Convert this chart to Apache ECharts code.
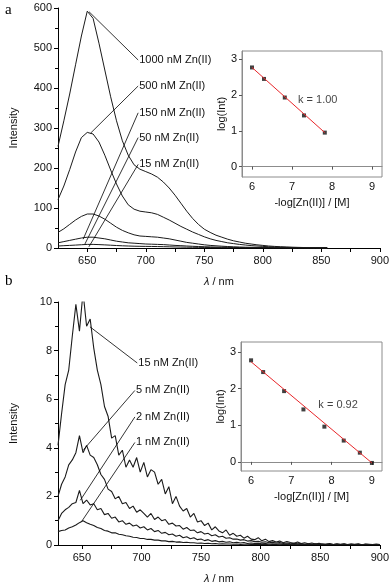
<!DOCTYPE html>
<html>
<head>
<meta charset="utf-8">
<script src="https://cdn.jsdelivr.net/npm/echarts@6/dist/echarts.min.js"></script>
<style>
  html, body { margin: 0; padding: 0; background: #fff; }
  #chart { width: 392px; height: 585px; }
</style>
</head>
<body>
<div id="chart"></div>
<script>
// panel a: wavelength grid, 625..855 nm every 5 nm
const wlA = Array.from({ length: 47 }, (_, i) => 625 + i * 5)
const zn1000 = [254, 318, 385, 458, 530, 592, 574, 512, 445, 378, 318, 268, 232, 208, 197, 191, 185, 177, 165, 150,
  132, 112, 92, 74, 59, 47, 39, 32, 27, 22, 18, 15, 12, 10, 8, 6.5, 5, 4, 3.2, 2.6,
  2, 1.6, 1.2, 1, 0.8, 0.6, 0.4]
const zn500 = [121, 155, 196, 240, 276, 289, 285, 265, 232, 195, 160, 130, 108, 97, 92, 90, 88, 84, 77, 70,
  62, 54, 47, 40, 34, 28, 23, 19, 16, 13, 11, 9, 7.5, 6, 5, 4, 3.2, 2.6, 2, 1.6,
  1.3, 1, 0.8, 0.6, 0.5, 0.4, 0.3]
const zn150 = [39, 48, 59, 70, 79, 85, 85, 80, 72, 62, 52, 44, 38, 33, 30, 29, 28, 27, 25, 23,
  20, 17, 14, 12, 10, 8, 6.5, 5.5, 4.5, 3.7, 3, 2.5, 2, 1.7, 1.4, 1.2, 1, 0.8, 0.6, 0.5,
  0.4, 0.3, 0.3, 0.2, 0.2, 0.2, 0.1]
const zn50 = [13, 16, 19, 22, 25, 27, 27, 25, 23, 20, 17, 15, 13, 12, 11, 10, 9.5, 9, 8.5, 7.5,
  6.5, 5.8, 5, 4.3, 3.7, 3.2, 2.7, 2.3, 2, 1.7, 1.4, 1.2, 1, 0.9, 0.8, 0.7, 0.6, 0.5, 0.4, 0.3,
  0.3, 0.2, 0.2, 0.2, 0.1, 0.1, 0.1]
const zn15 = [5, 5.8, 6.5, 7.3, 8.2, 9, 9, 8.5, 7.8, 7, 6.2, 5.5, 5, 4.5, 4.2, 4, 3.8, 3.6, 3.3, 3,
  2.6, 2.3, 2, 1.8, 1.6, 1.4, 1.2, 1, 0.9, 0.8, 0.7, 0.6, 0.5, 0.4, 0.4, 0.3, 0.3, 0.2, 0.2, 0.2,
  0.1, 0.1, 0.1, 0.1, 0.1, 0.1, 0.1]

// panel b: wavelength grid, 630..900 nm every 3 nm (noisy low-level spectra)
const wlB = Array.from({ length: 91 }, (_, i) => 630 + i * 3)
const zn15b = [
  4.1, 5.4, 6.6, 7.2, 8.6, 9.9, 8.8, 10.4, 9.0, 9.3,
  8.1, 7.2, 6.6, 5.7, 5.3, 4.4, 4.5, 3.7, 3.9, 3.2,
  3.5, 3.2, 3.6, 3.0, 3.4, 2.8, 3.1, 3.0, 2.5, 2.7,
  2.1, 2.4, 1.7, 2.0, 1.6, 1.4, 1.5, 1.15, 1.3, 0.95,
  1.0, 0.8, 0.9, 0.62, 0.75, 0.58, 0.5, 0.62, 0.4, 0.48,
  0.36, 0.4, 0.28, 0.36, 0.24, 0.22, 0.3, 0.17, 0.24, 0.14,
  0.18, 0.12, 0.16, 0.09, 0.14, 0.1, 0.07, 0.12, 0.06, 0.09,
  0.05, 0.08, 0.04, 0.07, 0.03, 0.04, 0.06, 0.02, 0.05, 0.03,
  0.05, 0.02, 0.04, 0.03, 0.05, 0.01, 0.04, 0.03, 0.02, 0.04,
  0.02]
const zn5b = [
  2.0, 2.5, 2.8, 3.3, 3.5, 3.8, 4.5, 3.8, 4.1, 3.7,
  3.6, 3.3, 2.9, 2.7, 2.3, 2.2, 1.9, 2.0, 1.7, 1.75,
  1.5, 1.6, 1.35, 1.45, 1.3, 1.15, 1.3, 1.05, 1.15, 1.0,
  1.05, 0.85, 0.9, 0.78, 0.8, 0.65, 0.72, 0.6, 0.62, 0.5,
  0.55, 0.45, 0.48, 0.38, 0.42, 0.33, 0.36, 0.28, 0.3, 0.24,
  0.25, 0.2, 0.22, 0.16, 0.18, 0.14, 0.15, 0.11, 0.13, 0.09,
  0.11, 0.08, 0.1, 0.06, 0.08, 0.05, 0.07, 0.05, 0.06, 0.03,
  0.05, 0.03, 0.05, 0.02, 0.04, 0.03, 0.04, 0.02, 0.03, 0.02,
  0.04, 0.01, 0.03, 0.02, 0.03, 0.01, 0.03, 0.02, 0.02, 0.02,
  0.02]
const zn2b = [
  1.0, 1.3, 1.45, 1.55, 1.7, 1.75, 2.25, 1.7, 1.85, 1.65,
  1.7, 1.45, 1.5, 1.25, 1.3, 1.1, 1.15, 0.95, 1.0, 0.85,
  0.9, 0.78, 0.82, 0.7, 0.75, 0.62, 0.68, 0.55, 0.6, 0.48,
  0.52, 0.42, 0.45, 0.36, 0.4, 0.3, 0.34, 0.26, 0.3, 0.22,
  0.25, 0.18, 0.22, 0.15, 0.18, 0.13, 0.15, 0.11, 0.13, 0.09,
  0.11, 0.08, 0.1, 0.06, 0.08, 0.06, 0.07, 0.05, 0.06, 0.04,
  0.05, 0.04, 0.05, 0.03, 0.04, 0.02, 0.04, 0.03, 0.03, 0.02,
  0.03, 0.01, 0.03, 0.02, 0.03, 0.01, 0.02, 0.02, 0.03, 0.01,
  0.02, 0.02, 0.03, 0.01, 0.02, 0.01, 0.02, 0.02, 0.01, 0.02,
  0.01]
const zn1b = [
  0.55, 0.6, 0.62, 0.7, 0.75, 0.82, 0.92, 1.0, 0.92, 0.85,
  0.8, 0.72, 0.68, 0.6, 0.57, 0.5, 0.5, 0.44, 0.42, 0.38,
  0.36, 0.32, 0.31, 0.27, 0.27, 0.23, 0.23, 0.2, 0.2, 0.17,
  0.17, 0.14, 0.15, 0.12, 0.13, 0.1, 0.11, 0.09, 0.09, 0.07,
  0.08, 0.06, 0.07, 0.05, 0.06, 0.04, 0.05, 0.04, 0.04, 0.03,
  0.04, 0.02, 0.03, 0.03, 0.02, 0.03, 0.02, 0.02, 0.03, 0.01,
  0.02, 0.02, 0.01, 0.02, 0.02, 0.01, 0.02, 0.01, 0.02, 0.01,
  0.01, 0.02, 0.01, 0.01, 0.02, 0.01, 0.01, 0.02, 0.01, 0.01,
  0.01, 0.01, 0.02, 0.01, 0.01, 0.01, 0.02, 0.01, 0.01, 0.01,
  0.01]

// leader lines: [start, end] in data units, label at the end
const leadersA = [
  { name: '1000 nM Zn(II)', pts: [[651.4, 591], [693.5, 470]] },
  { name: '500 nM Zn(II)', pts: [[652.8, 287], [693.5, 405]] },
  { name: '150 nM Zn(II)', pts: [[646.5, 22], [693.5, 338]] },
  { name: '50 nM Zn(II)', pts: [[648, 10], [693.5, 276]] },
  { name: '15 nM Zn(II)', pts: [[651.4, 3], [693.5, 209]] }
]
const leadersB = [
  { name: '15 nM Zn(II)', pts: [[656.8, 8.98], [696.5, 7.49]] },
  { name: '5 nM Zn(II)', pts: [[651.4, 3.92], [694.5, 6.36]] },
  { name: '2 nM Zn(II)', pts: [[648.7, 1.84], [694.5, 5.27]] },
  { name: '1 nM Zn(II)', pts: [[650, 0.98], [694.5, 4.22]] }
]

// insets: -log[Zn] vs log(Int)
const logZnA = [6, 6.3, 6.82, 7.3, 7.82]
const logIntA = [2.77, 2.45, 1.93, 1.43, 0.95]
const fitA = [[6, 2.77], [7.82, 0.95]]
const logZnB = [6, 6.3, 6.82, 7.3, 7.82, 8.3, 8.7, 9]
const logIntB = [2.77, 2.45, 1.93, 1.43, 0.96, 0.58, 0.25, -0.03]
const fitB = [[6, 2.73], [9, -0.03]]

const xLabelsMain = [650, 700, 750, 800, 850, 900]
const xTicksMain = [650, 675, 700, 725, 750, 775, 800, 825, 850, 875, 900]
const xTicksInset = [6, 7, 8, 9]
const yTicksInset = [0, 1, 2, 3]

const FONT = 'Liberation Sans'
const INK = '#111'

const pairs = (xs, ys) => ys.map((v, i) => [xs[i], v])

function mainX(gridIndex, min) {
  return {
    type: 'value', gridIndex, min, max: 900,
    name: '{i|λ} / nm', nameLocation: 'middle', nameGap: 28,
    nameTextStyle: { fontFamily: FONT, fontSize: 11, color: INK, rich: { i: { fontStyle: 'italic', fontFamily: FONT, fontSize: 11, color: INK } } },
    axisLine: { lineStyle: { color: '#000', width: 1 } },
    axisTick: { length: 4, lineStyle: { color: '#000' }, customValues: xTicksMain },
    axisLabel: { color: INK, fontFamily: FONT, fontSize: 11, margin: 7, customValues: xLabelsMain },
    splitLine: { show: false }
  }
}

function mainY(gridIndex, max, interval) {
  return {
    type: 'value', gridIndex, min: 0, max, interval,
    name: 'Intensity', nameLocation: 'middle', nameGap: 39,
    nameTextStyle: { fontFamily: FONT, fontSize: 11, color: INK },
    axisLine: { show: true, lineStyle: { color: '#000', width: 1 } },
    axisTick: { show: true, length: 4, lineStyle: { color: '#000' } },
    minorTick: { show: true, splitNumber: 2, length: 3, lineStyle: { color: '#000' } },
    axisLabel: { color: INK, fontFamily: FONT, fontSize: 11, margin: 6 },
    splitLine: { show: false }
  }
}

function insetX(gridIndex) {
  return {
    type: 'value', gridIndex, min: 5.75, max: 9.25,
    name: '-log[Zn(II)] / [M]', nameLocation: 'middle', nameGap: 20,
    nameTextStyle: { fontFamily: FONT, fontSize: 11, color: INK },
    axisLine: { lineStyle: { color: '#8c8c8c' } },
    axisTick: { length: 3, lineStyle: { color: '#555' }, customValues: xTicksInset },
    axisLabel: { color: INK, fontFamily: FONT, fontSize: 11, margin: 4, customValues: xTicksInset },
    splitLine: { show: false }
  }
}

function insetY(gridIndex, min, max) {
  return {
    type: 'value', gridIndex, min, max,
    name: 'log(Int)', nameLocation: 'middle', nameGap: 15,
    nameTextStyle: { fontFamily: FONT, fontSize: 11, color: INK },
    axisLine: { show: true, lineStyle: { color: '#8c8c8c' } },
    axisTick: { show: true, length: 3, lineStyle: { color: '#555' }, customValues: yTicksInset },
    axisLabel: { color: INK, fontFamily: FONT, fontSize: 11, margin: 5, customValues: yTicksInset },
    splitLine: { show: false }
  }
}

function spectrum(xi, name, xs, ys, width) {
  return {
    type: 'line', name, xAxisIndex: xi, yAxisIndex: xi,
    data: pairs(xs, ys), showSymbol: false, symbol: 'none', clip: true,
    lineStyle: { color: '#1b1b1b', width }, silent: true
  }
}

function leader(xi, l) {
  return {
    type: 'line', xAxisIndex: xi, yAxisIndex: xi, data: l.pts,
    symbol: 'none', clip: false, silent: true,
    lineStyle: { color: '#000', width: 0.8 },
    endLabel: { show: true, formatter: l.name, distance: 1, color: INK, fontFamily: FONT, fontSize: 11 }
  }
}

function insetSeries(xi, xs, ys, fit, kText, kPos) {
  return [
    {
      type: 'line', xAxisIndex: xi, yAxisIndex: xi, data: fit, symbol: 'none', silent: true,
      lineStyle: { color: '#e8262a', width: 1 }
    },
    {
      type: 'scatter', xAxisIndex: xi, yAxisIndex: xi, data: pairs(xs, ys),
      symbol: 'rect', symbolSize: 4, itemStyle: { color: '#111' }, silent: true
    },
    {
      type: 'scatter', xAxisIndex: xi, yAxisIndex: xi, data: [kPos], symbolSize: 0, silent: true,
      label: { show: true, position: 'right', distance: 0, formatter: kText, color: INK, fontFamily: FONT, fontSize: 11 }
    }
  ]
}

const chart = echarts.init(document.getElementById('chart'), null, { renderer: 'canvas' })

chart.setOption({
  animation: false,
  backgroundColor: '#fff',
  textStyle: { fontFamily: FONT },
  grid: [
    { left: 48, top: 8, width: 334, height: 240 },
    { left: 242, top: 51, width: 140, height: 126, show: true, borderColor: '#8c8c8c', borderWidth: 1 },
    { left: 48, top: 302, width: 334, height: 245 },
    { left: 241, top: 342, width: 141, height: 129, show: true, borderColor: '#8c8c8c', borderWidth: 1 }
  ],
  xAxis: [mainX(0, 625), insetX(1), mainX(2, 630), insetX(3)],
  yAxis: [mainY(0, 600, 100), insetY(1, -0.29, 3.23), mainY(2, 10, 2), insetY(3, -0.25, 3.27)],
  graphic: [
    { type: 'text', left: 5, top: 3, style: { text: 'a', font: '15px "Liberation Serif"', fill: '#000' } },
    { type: 'text', left: 5, top: 274, style: { text: 'b', font: '15px "Liberation Serif"', fill: '#000' } }
  ],
  series: [
    spectrum(0, '1000', wlA, zn1000, 1),
    spectrum(0, '500', wlA, zn500, 1),
    spectrum(0, '150', wlA, zn150, 1),
    spectrum(0, '50', wlA, zn50, 1),
    spectrum(0, '15', wlA, zn15, 1),
    ...leadersA.map(l => leader(0, l)),
    ...insetSeries(1, logZnA, logIntA, fitA, 'k = 1.00', [7.15, 1.85]),
    spectrum(2, '15b', wlB, zn15b, 1.1),
    spectrum(2, '5b', wlB, zn5b, 1.1),
    spectrum(2, '2b', wlB, zn2b, 1.1),
    spectrum(2, '1b', wlB, zn1b, 1.1),
    ...leadersB.map(l => leader(2, l)),
    ...insetSeries(3, logZnB, logIntB, fitB, 'k = 0.92', [7.67, 1.55])
  ]
})
</script>
</body>
</html>
